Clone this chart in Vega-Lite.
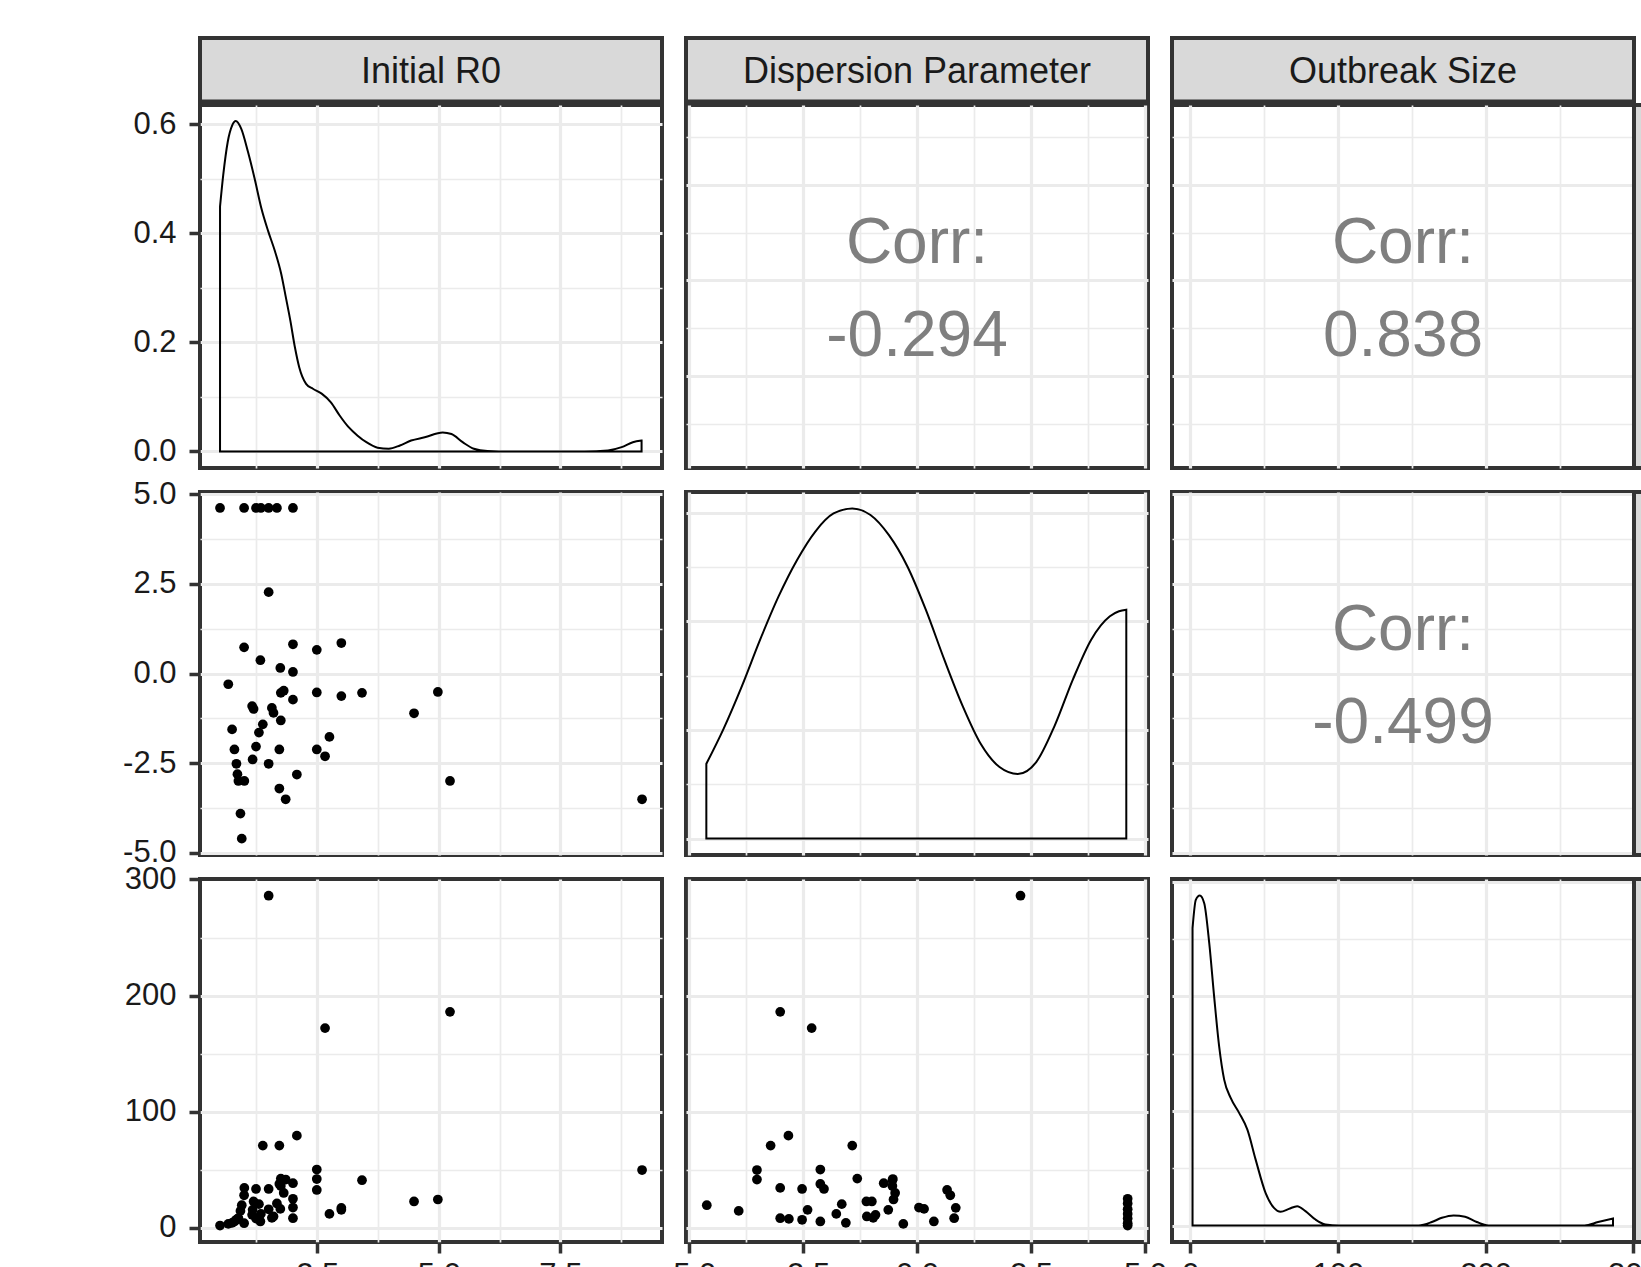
{
  "$schema": "https://vega.github.io/schema/vega-lite/v6.json",
  "background": "white",
  "padding": {"left": 120, "top": 36, "right": 0, "bottom": 0},
  "config": {
    "view": {"stroke": "#333333", "strokeWidth": 4, "fill": "white"},
    "axis": {"domain": false, "gridColor": "#ebebeb", "tickColor": "#333333", "tickWidth": 3.5, "tickSize": 11, "labelFont": "Liberation Sans", "labelFontSize": 31, "labelColor": "#1a1a1a", "labelOverlap": false, "labelFlush": false, "labelBound": false, "minExtent": 0},
    "axisX": {"labelPadding": 7},
    "axisY": {"labelPadding": 13},
    "text": {"font": "Liberation Sans"}
  },
  "datasets": {
    "pts": [
      {"r0": 0.50, "k": 4.62, "size": 2},
      {"r0": 0.995, "k": 4.62, "size": 4},
      {"r0": 1.24, "k": 4.62, "size": 8},
      {"r0": 1.34, "k": 4.62, "size": 12},
      {"r0": 1.50, "k": 4.62, "size": 16},
      {"r0": 1.67, "k": 4.62, "size": 21},
      {"r0": 2.00, "k": 4.62, "size": 25},
      {"r0": 1.50, "k": 2.27, "size": 286},
      {"r0": 0.995, "k": 0.73, "size": 28},
      {"r0": 2.00, "k": 0.815, "size": 8.3},
      {"r0": 2.49, "k": 0.66, "size": 32.6},
      {"r0": 2.995, "k": 0.85, "size": 17.2},
      {"r0": 1.33, "k": 0.37, "size": 5.5},
      {"r0": 1.74, "k": 0.155, "size": 16.3},
      {"r0": 2.00, "k": 0.043, "size": 17.5},
      {"r0": 0.67, "k": -0.30, "size": 3.4},
      {"r0": 1.75, "k": -0.54, "size": 36},
      {"r0": 1.81, "k": -0.48, "size": 30},
      {"r0": 2.49, "k": -0.53, "size": 42},
      {"r0": 2.995, "k": -0.63, "size": 15.5},
      {"r0": 3.42, "k": -0.54, "size": 41},
      {"r0": 4.98, "k": -0.515, "size": 24.4},
      {"r0": 2.00, "k": -0.73, "size": 38.4},
      {"r0": 4.49, "k": -1.11, "size": 22.7},
      {"r0": 1.16, "k": -0.91, "size": 11.2},
      {"r0": 1.566, "k": -0.96, "size": 8.6},
      {"r0": 1.19, "k": -0.99, "size": 22.7},
      {"r0": 1.60, "k": -1.10, "size": 9.8},
      {"r0": 1.75, "k": -1.31, "size": 42.4},
      {"r0": 1.38, "k": -1.42, "size": 70.8},
      {"r0": 0.748, "k": -1.56, "size": 4.3},
      {"r0": 1.30, "k": -1.65, "size": 20.4},
      {"r0": 2.75, "k": -1.77, "size": 12.0},
      {"r0": 1.24, "k": -2.04, "size": 33.5},
      {"r0": 0.796, "k": -2.12, "size": 5.5},
      {"r0": 1.72, "k": -2.12, "size": 37.8},
      {"r0": 2.49, "k": -2.12, "size": 50.2},
      {"r0": 2.66, "k": -2.31, "size": 172},
      {"r0": 1.17, "k": -2.40, "size": 15.5},
      {"r0": 0.837, "k": -2.52, "size": 6.9},
      {"r0": 1.50, "k": -2.52, "size": 33.5},
      {"r0": 0.858, "k": -2.81, "size": 7.7},
      {"r0": 2.08, "k": -2.82, "size": 79.4},
      {"r0": 0.878, "k": -3.00, "size": 8.3},
      {"r0": 1.00, "k": -3.00, "size": 34.4},
      {"r0": 5.23, "k": -3.00, "size": 186},
      {"r0": 1.72, "k": -3.21, "size": 70.8},
      {"r0": 1.85, "k": -3.51, "size": 41.6},
      {"r0": 9.18, "k": -3.51, "size": 49.8},
      {"r0": 0.92, "k": -3.91, "size": 14.6},
      {"r0": 0.947, "k": -4.61, "size": 19.5}
    ],
    "d_r0": [
      {"r0": 0.50, "density": 0.449}, {"r0": 0.566, "density": 0.507}, {"r0": 0.659, "density": 0.568}, {"r0": 0.75, "density": 0.598}, {"r0": 0.824, "density": 0.606}, {"r0": 0.935, "density": 0.592}, {"r0": 1.073, "density": 0.550}, {"r0": 1.21, "density": 0.501}, {"r0": 1.35, "density": 0.446}, {"r0": 1.49, "density": 0.404}, {"r0": 1.63, "density": 0.367}, {"r0": 1.76, "density": 0.325}, {"r0": 1.855, "density": 0.282}, {"r0": 1.948, "density": 0.239}, {"r0": 2.04, "density": 0.191}, {"r0": 2.13, "density": 0.154}, {"r0": 2.27, "density": 0.124}, {"r0": 2.41, "density": 0.115}, {"r0": 2.59, "density": 0.106}, {"r0": 2.78, "density": 0.090}, {"r0": 2.96, "density": 0.066}, {"r0": 3.14, "density": 0.045}, {"r0": 3.33, "density": 0.029}, {"r0": 3.51, "density": 0.017}, {"r0": 3.74, "density": 0.007}, {"r0": 3.97, "density": 0.005}, {"r0": 4.20, "density": 0.011}, {"r0": 4.43, "density": 0.020}, {"r0": 4.71, "density": 0.026}, {"r0": 5.08, "density": 0.035}, {"r0": 5.26, "density": 0.032}, {"r0": 5.49, "density": 0.017}, {"r0": 5.72, "density": 0.005}, {"r0": 6.0, "density": 0.001}, {"r0": 6.5, "density": 0.0}, {"r0": 7.0, "density": 0.0}, {"r0": 8.0, "density": 0.0}, {"r0": 8.48, "density": 0.002}, {"r0": 8.76, "density": 0.008}, {"r0": 8.99, "density": 0.017}, {"r0": 9.17, "density": 0.020}
    ],
    "d_k": [
      {"k": -4.62, "density": 0.0344}, {"k": -4.245, "density": 0.0504}, {"k": -3.84, "density": 0.0702}, {"k": -3.44, "density": 0.0916}, {"k": -3.036, "density": 0.1115}, {"k": -2.63, "density": 0.1283}, {"k": -2.23, "density": 0.1414}, {"k": -1.83, "density": 0.1497}, {"k": -1.42, "density": 0.152}, {"k": -1.02, "density": 0.149}, {"k": -0.615, "density": 0.1397}, {"k": -0.21, "density": 0.1253}, {"k": 0.193, "density": 0.1054}, {"k": 0.597, "density": 0.0825}, {"k": 1.0, "density": 0.0611}, {"k": 1.40, "density": 0.0435}, {"k": 1.81, "density": 0.0329}, {"k": 2.21, "density": 0.0297}, {"k": 2.615, "density": 0.0352}, {"k": 3.02, "density": 0.052}, {"k": 3.42, "density": 0.0733}, {"k": 3.82, "density": 0.0916}, {"k": 4.23, "density": 0.1024}, {"k": 4.43, "density": 0.1047}, {"k": 4.59, "density": 0.1054}
    ],
    "d_s": [
      {"size": 1.7, "density": 0.02595}, {"size": 3.9, "density": 0.02842}, {"size": 6.6, "density": 0.0288}, {"size": 9.6, "density": 0.02813}, {"size": 13.0, "density": 0.02464}, {"size": 16.3, "density": 0.02}, {"size": 19.7, "density": 0.01563}, {"size": 23.1, "density": 0.01273}, {"size": 27.5, "density": 0.01113}, {"size": 33.2, "density": 0.00983}, {"size": 38.8, "density": 0.00836}, {"size": 44.4, "density": 0.00575}, {"size": 51.1, "density": 0.00285}, {"size": 56.8, "density": 0.00154}, {"size": 61.3, "density": 0.0012}, {"size": 66.9, "density": 0.00145}, {"size": 72.5, "density": 0.00169}, {"size": 78.1, "density": 0.00126}, {"size": 84.9, "density": 0.00052}, {"size": 91.6, "density": 0.00009}, {"size": 100.7, "density": 0}, {"size": 154.7, "density": 0.00001}, {"size": 163.6, "density": 0.0003}, {"size": 170.4, "density": 0.00067}, {"size": 178.3, "density": 0.00088}, {"size": 186.1, "density": 0.00076}, {"size": 194, "density": 0.0003}, {"size": 201.9, "density": 0.00001}, {"size": 267, "density": 0.00001}, {"size": 276.1, "density": 0.0003}, {"size": 286.2, "density": 0.00061}
    ],
    "blank": [{"t": ""}]
  },
  "columns": 6,
  "spacing": 0,
  "bounds": "flush",
  "concat": [
    {"width": 462, "height": 63.5, "view": {"fill": "#d9d9d9", "stroke": "#333333", "strokeWidth": 4}, "data": {"values": [{"label": "Initial R0"}]}, "mark": {"type": "text", "fontSize": 36, "color": "#1a1a1a", "dy": 2}, "encoding": {"text": {"field": "label"}}},
    {"width": 23.5, "height": 63.5, "view": {"fill": null, "stroke": null}, "data": {"name": "blank"}, "mark": "text", "encoding": {"text": {"field": "t"}}},
    {"width": 462, "height": 63.5, "view": {"fill": "#d9d9d9", "stroke": "#333333", "strokeWidth": 4}, "data": {"values": [{"label": "Dispersion Parameter"}]}, "mark": {"type": "text", "fontSize": 36, "color": "#1a1a1a", "dy": 2}, "encoding": {"text": {"field": "label"}}},
    {"width": 23.5, "height": 63.5, "view": {"fill": null, "stroke": null}, "data": {"name": "blank"}, "mark": "text", "encoding": {"text": {"field": "t"}}},
    {"width": 462, "height": 63.5, "view": {"fill": "#d9d9d9", "stroke": "#333333", "strokeWidth": 4}, "data": {"values": [{"label": "Outbreak Size"}]}, "mark": {"type": "text", "fontSize": 36, "color": "#1a1a1a", "dy": 2}, "encoding": {"text": {"field": "label"}}},
    {"width": 66, "height": 63.5, "view": {"fill": null, "stroke": null}, "data": {"name": "blank"}, "mark": "text", "encoding": {"text": {"field": "t"}}},

    {"width": 462, "height": 2.5, "view": {"fill": null, "stroke": null}, "data": {"name": "blank"}, "mark": "text", "encoding": {"text": {"field": "t"}}},
    {"width": 23.5, "height": 2.5, "view": {"fill": null, "stroke": null}, "data": {"name": "blank"}, "mark": "text", "encoding": {"text": {"field": "t"}}},
    {"width": 462, "height": 2.5, "view": {"fill": null, "stroke": null}, "data": {"name": "blank"}, "mark": "text", "encoding": {"text": {"field": "t"}}},
    {"width": 23.5, "height": 2.5, "view": {"fill": null, "stroke": null}, "data": {"name": "blank"}, "mark": "text", "encoding": {"text": {"field": "t"}}},
    {"width": 462, "height": 2.5, "view": {"fill": null, "stroke": null}, "data": {"name": "blank"}, "mark": "text", "encoding": {"text": {"field": "t"}}},
    {"width": 66, "height": 2.5, "view": {"fill": null, "stroke": null}, "data": {"name": "blank"}, "mark": "text", "encoding": {"text": {"field": "t"}}},

    {
      "width": 462, "height": 363,
      "data": {"name": "d_r0"},
      "mark": {"type": "area", "fillOpacity": 0, "stroke": "black", "strokeWidth": 2, "interpolate": "monotone"},
      "encoding": {
        "x": {"field": "r0", "type": "quantitative", "scale": {"domain": [0.088, 9.59], "nice": false, "zero": false},
          "axis": {"title": null, "values": [1.25, 2.5, 3.75, 5, 6.25, 7.5, 8.75], "labels": false, "ticks": false, "gridWidth": {"condition": {"test": "indexof([2.5,5,7.5], datum.value) >= 0", "value": 3.2}, "value": 1.7}}},
        "y": {"field": "density", "type": "quantitative", "scale": {"domain": [-0.0303, 0.6353], "nice": false, "zero": false},
          "axis": {"title": null, "values": [0, 0.1, 0.2, 0.3, 0.4, 0.5, 0.6], "format": ".1f", "labelExpr": "indexof([0,0.2,0.4,0.6], datum.value) >= 0 ? replace(datum.label, '\u2212', '-') : ''", "tickOpacity": {"condition": {"test": "indexof([0,0.2,0.4,0.6], datum.value) >= 0", "value": 1}, "value": 0}, "gridWidth": {"condition": {"test": "indexof([0,0.2,0.4,0.6], datum.value) >= 0", "value": 3.2}, "value": 1.7}}},
        "y2": {"datum": 0}
      }
    },
    {"width": 23.5, "height": 363, "view": {"fill": null, "stroke": null}, "data": {"name": "blank"}, "mark": "text", "encoding": {"text": {"field": "t"}}},
    {
      "width": 462, "height": 363,
      "layer": [
        {
          "data": {"name": "pts"},
          "mark": {"type": "point", "opacity": 0},
          "encoding": {
            "x": {"field": "k", "type": "quantitative", "scale": {"domain": [-5.066, 5.066], "nice": false, "zero": false},
              "axis": {"title": null, "values": [-5, -3.75, -2.5, -1.25, 0, 1.25, 2.5, 3.75, 5], "labels": false, "ticks": false, "gridWidth": {"condition": {"test": "indexof([-5,-2.5,0,2.5,5], datum.value) >= 0", "value": 3.2}, "value": 1.7}}},
            "y": {"field": "r0", "type": "quantitative", "scale": {"domain": [0.088, 9.59], "nice": false, "zero": false},
              "axis": {"title": null, "values": [1.25, 2.5, 3.75, 5, 6.25, 7.5, 8.75], "labels": false, "ticks": false, "gridWidth": {"condition": {"test": "indexof([2.5,5,7.5], datum.value) >= 0", "value": 3.2}, "value": 1.7}}}
          }
        },
        {
          "data": {"values": [{"label": "Corr:\n-0.294"}]},
          "mark": {"type": "text", "fontSize": 64, "color": "#7f7f7f", "lineBreak": "\n", "lineHeight": 93, "dy": -43},
          "encoding": {
            "x": {"datum": 0, "type": "quantitative"},
            "y": {"datum": 4.839, "type": "quantitative"},
            "text": {"field": "label"}
          }
        }
      ]
    },
    {"width": 23.5, "height": 363, "view": {"fill": null, "stroke": null}, "data": {"name": "blank"}, "mark": "text", "encoding": {"text": {"field": "t"}}},
    {
      "width": 462, "height": 363,
      "layer": [
        {
          "data": {"name": "pts"},
          "mark": {"type": "point", "opacity": 0},
          "encoding": {
            "x": {"field": "size", "type": "quantitative", "scale": {"domain": [-12.2, 300.4], "nice": false, "zero": false},
              "axis": {"title": null, "values": [0, 50, 100, 150, 200, 250, 300], "labels": false, "ticks": false, "gridOpacity": {"condition": {"test": "datum.value === 300", "value": 0}, "value": 1}, "gridWidth": {"condition": {"test": "indexof([0,100,200,300], datum.value) >= 0", "value": 3.2}, "value": 1.7}}},
            "y": {"field": "r0", "type": "quantitative", "scale": {"domain": [0.088, 9.59], "nice": false, "zero": false},
              "axis": {"title": null, "values": [1.25, 2.5, 3.75, 5, 6.25, 7.5, 8.75], "labels": false, "ticks": false, "gridWidth": {"condition": {"test": "indexof([2.5,5,7.5], datum.value) >= 0", "value": 3.2}, "value": 1.7}}}
          }
        },
        {
          "data": {"values": [{"label": "Corr:\n0.838"}]},
          "mark": {"type": "text", "fontSize": 64, "color": "#7f7f7f", "lineBreak": "\n", "lineHeight": 93, "dy": -43},
          "encoding": {
            "x": {"datum": 144.1, "type": "quantitative"},
            "y": {"datum": 4.839, "type": "quantitative"},
            "text": {"field": "label"}
          }
        }
      ]
    },
    {"width": 66, "height": 363, "view": {"fill": "#d9d9d9", "stroke": "#333333", "strokeWidth": 4}, "data": {"values": [{"label": "Initial R0"}]}, "mark": {"type": "text", "fontSize": 36, "color": "#1a1a1a", "angle": 90}, "encoding": {"text": {"field": "label"}}},

    {"width": 462, "height": 23.5, "view": {"fill": null, "stroke": null}, "data": {"name": "blank"}, "mark": "text", "encoding": {"text": {"field": "t"}}},
    {"width": 23.5, "height": 23.5, "view": {"fill": null, "stroke": null}, "data": {"name": "blank"}, "mark": "text", "encoding": {"text": {"field": "t"}}},
    {"width": 462, "height": 23.5, "view": {"fill": null, "stroke": null}, "data": {"name": "blank"}, "mark": "text", "encoding": {"text": {"field": "t"}}},
    {"width": 23.5, "height": 23.5, "view": {"fill": null, "stroke": null}, "data": {"name": "blank"}, "mark": "text", "encoding": {"text": {"field": "t"}}},
    {"width": 462, "height": 23.5, "view": {"fill": null, "stroke": null}, "data": {"name": "blank"}, "mark": "text", "encoding": {"text": {"field": "t"}}},
    {"width": 66, "height": 23.5, "view": {"fill": null, "stroke": null}, "data": {"name": "blank"}, "mark": "text", "encoding": {"text": {"field": "t"}}},

    {
      "width": 462, "height": 363,
      "data": {"name": "pts"},
      "mark": {"type": "circle", "size": 95, "color": "black", "opacity": 1},
      "encoding": {
        "x": {"field": "r0", "type": "quantitative", "scale": {"domain": [0.088, 9.59], "nice": false, "zero": false},
          "axis": {"title": null, "values": [1.25, 2.5, 3.75, 5, 6.25, 7.5, 8.75], "labels": false, "ticks": false, "gridWidth": {"condition": {"test": "indexof([2.5,5,7.5], datum.value) >= 0", "value": 3.2}, "value": 1.7}}},
        "y": {"field": "k", "type": "quantitative", "scale": {"domain": [-5.066, 5.066], "nice": false, "zero": false},
          "axis": {"title": null, "values": [-5, -3.75, -2.5, -1.25, 0, 1.25, 2.5, 3.75, 5], "format": ".1f", "labelExpr": "indexof([-5,-2.5,0,2.5,5], datum.value) >= 0 ? replace(datum.label, '\u2212', '-') : ''", "tickOpacity": {"condition": {"test": "indexof([-5,-2.5,0,2.5,5], datum.value) >= 0", "value": 1}, "value": 0}, "gridWidth": {"condition": {"test": "indexof([-5,-2.5,0,2.5,5], datum.value) >= 0", "value": 3.2}, "value": 1.7}}}
      }
    },
    {"width": 23.5, "height": 363, "view": {"fill": null, "stroke": null}, "data": {"name": "blank"}, "mark": "text", "encoding": {"text": {"field": "t"}}},
    {
      "width": 462, "height": 363,
      "data": {"name": "d_k"},
      "mark": {"type": "area", "fillOpacity": 0, "stroke": "black", "strokeWidth": 2, "interpolate": "monotone"},
      "encoding": {
        "x": {"field": "k", "type": "quantitative", "scale": {"domain": [-5.066, 5.066], "nice": false, "zero": false},
          "axis": {"title": null, "values": [-5, -3.75, -2.5, -1.25, 0, 1.25, 2.5, 3.75, 5], "labels": false, "ticks": false, "gridWidth": {"condition": {"test": "indexof([-5,-2.5,0,2.5,5], datum.value) >= 0", "value": 3.2}, "value": 1.7}}},
        "y": {"field": "density", "type": "quantitative", "scale": {"domain": [-0.0076, 0.1596], "nice": false, "zero": false},
          "axis": {"title": null, "values": [0, 0.025, 0.05, 0.075, 0.1, 0.125, 0.15], "labels": false, "ticks": false, "gridWidth": {"condition": {"test": "indexof([0,0.05,0.1,0.15], datum.value) >= 0", "value": 3.2}, "value": 1.7}}},
        "y2": {"datum": 0}
      }
    },
    {"width": 23.5, "height": 363, "view": {"fill": null, "stroke": null}, "data": {"name": "blank"}, "mark": "text", "encoding": {"text": {"field": "t"}}},
    {
      "width": 462, "height": 363,
      "layer": [
        {
          "data": {"name": "pts"},
          "mark": {"type": "point", "opacity": 0},
          "encoding": {
            "x": {"field": "size", "type": "quantitative", "scale": {"domain": [-12.2, 300.4], "nice": false, "zero": false},
              "axis": {"title": null, "values": [0, 50, 100, 150, 200, 250, 300], "labels": false, "ticks": false, "gridOpacity": {"condition": {"test": "datum.value === 300", "value": 0}, "value": 1}, "gridWidth": {"condition": {"test": "indexof([0,100,200,300], datum.value) >= 0", "value": 3.2}, "value": 1.7}}},
            "y": {"field": "k", "type": "quantitative", "scale": {"domain": [-5.066, 5.066], "nice": false, "zero": false},
              "axis": {"title": null, "values": [-5, -3.75, -2.5, -1.25, 0, 1.25, 2.5, 3.75, 5], "labels": false, "ticks": false, "gridWidth": {"condition": {"test": "indexof([-5,-2.5,0,2.5,5], datum.value) >= 0", "value": 3.2}, "value": 1.7}}}
          }
        },
        {
          "data": {"values": [{"label": "Corr:\n-0.499"}]},
          "mark": {"type": "text", "fontSize": 64, "color": "#7f7f7f", "lineBreak": "\n", "lineHeight": 93, "dy": -43},
          "encoding": {
            "x": {"datum": 144.1, "type": "quantitative"},
            "y": {"datum": 0, "type": "quantitative"},
            "text": {"field": "label"}
          }
        }
      ]
    },
    {"width": 66, "height": 363, "view": {"fill": "#d9d9d9", "stroke": "#333333", "strokeWidth": 4}, "data": {"values": [{"label": "Dispersion Parameter"}]}, "mark": {"type": "text", "fontSize": 36, "color": "#1a1a1a", "angle": 90}, "encoding": {"text": {"field": "label"}}},

    {"width": 462, "height": 23.5, "view": {"fill": null, "stroke": null}, "data": {"name": "blank"}, "mark": "text", "encoding": {"text": {"field": "t"}}},
    {"width": 23.5, "height": 23.5, "view": {"fill": null, "stroke": null}, "data": {"name": "blank"}, "mark": "text", "encoding": {"text": {"field": "t"}}},
    {"width": 462, "height": 23.5, "view": {"fill": null, "stroke": null}, "data": {"name": "blank"}, "mark": "text", "encoding": {"text": {"field": "t"}}},
    {"width": 23.5, "height": 23.5, "view": {"fill": null, "stroke": null}, "data": {"name": "blank"}, "mark": "text", "encoding": {"text": {"field": "t"}}},
    {"width": 462, "height": 23.5, "view": {"fill": null, "stroke": null}, "data": {"name": "blank"}, "mark": "text", "encoding": {"text": {"field": "t"}}},
    {"width": 66, "height": 23.5, "view": {"fill": null, "stroke": null}, "data": {"name": "blank"}, "mark": "text", "encoding": {"text": {"field": "t"}}},

    {
      "width": 462, "height": 363,
      "data": {"name": "pts"},
      "mark": {"type": "circle", "size": 95, "color": "black", "opacity": 1},
      "encoding": {
        "x": {"field": "r0", "type": "quantitative", "scale": {"domain": [0.088, 9.59], "nice": false, "zero": false},
          "axis": {"title": null, "values": [1.25, 2.5, 3.75, 5, 6.25, 7.5, 8.75], "format": ".1f", "labelExpr": "indexof([2.5,5,7.5], datum.value) >= 0 ? datum.label : ''", "tickOpacity": {"condition": {"test": "indexof([2.5,5,7.5], datum.value) >= 0", "value": 1}, "value": 0}, "gridWidth": {"condition": {"test": "indexof([2.5,5,7.5], datum.value) >= 0", "value": 3.2}, "value": 1.7}}},
        "y": {"field": "size", "type": "quantitative", "scale": {"domain": [-12.2, 300.4], "nice": false, "zero": false},
          "axis": {"title": null, "values": [0, 50, 100, 150, 200, 250, 300], "format": "d", "labelExpr": "indexof([0,100,200,300], datum.value) >= 0 ? datum.label : ''", "tickOpacity": {"condition": {"test": "indexof([0,100,200,300], datum.value) >= 0", "value": 1}, "value": 0}, "gridOpacity": {"condition": {"test": "datum.value === 300", "value": 0}, "value": 1}, "gridWidth": {"condition": {"test": "indexof([0,100,200,300], datum.value) >= 0", "value": 3.2}, "value": 1.7}}}
      }
    },
    {"width": 23.5, "height": 363, "view": {"fill": null, "stroke": null}, "data": {"name": "blank"}, "mark": "text", "encoding": {"text": {"field": "t"}}},
    {
      "width": 462, "height": 363,
      "data": {"name": "pts"},
      "mark": {"type": "circle", "size": 95, "color": "black", "opacity": 1},
      "encoding": {
        "x": {"field": "k", "type": "quantitative", "scale": {"domain": [-5.066, 5.066], "nice": false, "zero": false},
          "axis": {"title": null, "values": [-5, -3.75, -2.5, -1.25, 0, 1.25, 2.5, 3.75, 5], "format": ".1f", "labelExpr": "indexof([-5,-2.5,0,2.5,5], datum.value) >= 0 ? replace(datum.label, '\u2212', '-') : ''", "tickOpacity": {"condition": {"test": "indexof([-5,-2.5,0,2.5,5], datum.value) >= 0", "value": 1}, "value": 0}, "gridWidth": {"condition": {"test": "indexof([-5,-2.5,0,2.5,5], datum.value) >= 0", "value": 3.2}, "value": 1.7}}},
        "y": {"field": "size", "type": "quantitative", "scale": {"domain": [-12.2, 300.4], "nice": false, "zero": false},
          "axis": {"title": null, "values": [0, 50, 100, 150, 200, 250, 300], "labels": false, "ticks": false, "gridOpacity": {"condition": {"test": "datum.value === 300", "value": 0}, "value": 1}, "gridWidth": {"condition": {"test": "indexof([0,100,200,300], datum.value) >= 0", "value": 3.2}, "value": 1.7}}}
      }
    },
    {"width": 23.5, "height": 363, "view": {"fill": null, "stroke": null}, "data": {"name": "blank"}, "mark": "text", "encoding": {"text": {"field": "t"}}},
    {
      "width": 462, "height": 363,
      "data": {"name": "d_s"},
      "mark": {"type": "area", "fillOpacity": 0, "stroke": "black", "strokeWidth": 2, "interpolate": "monotone"},
      "encoding": {
        "x": {"field": "size", "type": "quantitative", "scale": {"domain": [-12.2, 300.4], "nice": false, "zero": false},
          "axis": {"title": null, "values": [0, 50, 100, 150, 200, 250, 300], "format": "d", "labelExpr": "indexof([0,100,200,300], datum.value) >= 0 ? datum.label : ''", "tickOpacity": {"condition": {"test": "indexof([0,100,200,300], datum.value) >= 0", "value": 1}, "value": 0}, "gridOpacity": {"condition": {"test": "datum.value === 300", "value": 0}, "value": 1}, "gridWidth": {"condition": {"test": "indexof([0,100,200,300], datum.value) >= 0", "value": 3.2}, "value": 1.7}}},
        "y": {"field": "density", "type": "quantitative", "scale": {"domain": [-0.00144, 0.03024], "nice": false, "zero": false},
          "axis": {"title": null, "values": [0, 0.005, 0.01, 0.015, 0.02, 0.025, 0.03], "labels": false, "ticks": false, "gridWidth": {"condition": {"test": "indexof([0,0.01,0.02,0.03], datum.value) >= 0", "value": 3.2}, "value": 1.7}}},
        "y2": {"datum": 0}
      }
    },
    {"width": 66, "height": 363, "view": {"fill": "#d9d9d9", "stroke": "#333333", "strokeWidth": 4}, "data": {"values": [{"label": "Outbreak Size"}]}, "mark": {"type": "text", "fontSize": 36, "color": "#1a1a1a", "angle": 90}, "encoding": {"text": {"field": "label"}}}
  ]
}
